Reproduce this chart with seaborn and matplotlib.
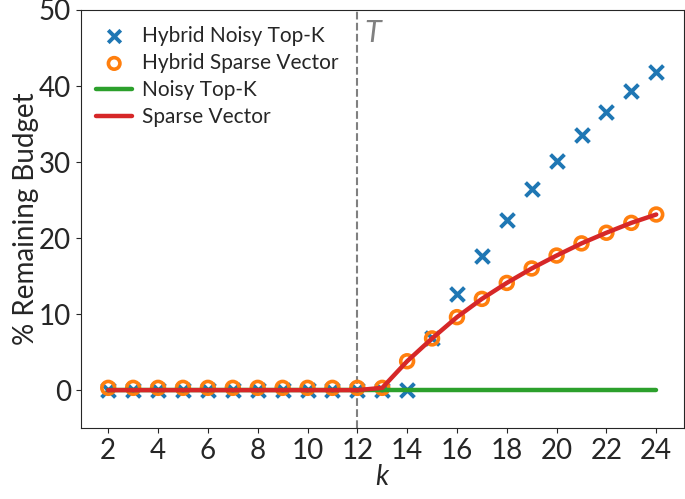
import matplotlib
matplotlib.use("Agg")
import matplotlib.pyplot as plt
import seaborn as sns
import pandas as pd
import numpy as np

# values
k = list(range(2, 25))
hybrid_topk = [0, 0, 0, 0, 0, 0, 0, 0, 0, 0, 0, 0, 0,
               6.8, 12.6, 17.6, 22.4, 26.5, 30.2, 33.5, 36.6, 39.4, 41.9]
hybrid_sparse = [0.3, 0.3, 0.3, 0.3, 0.3, 0.3, 0.3, 0.3, 0.3, 0.3, 0.3, 0.3,
                 3.8, 6.8, 9.6, 12.0, 14.1, 16.0, 17.7, 19.3, 20.7, 22.0, 23.1]
noisy_topk = [0] * 23
sparse_vector = [0, 0, 0, 0, 0, 0, 0, 0, 0, 0, 0, 0.3,
                 3.8, 6.8, 9.6, 12.0, 14.1, 16.0, 17.7, 19.3, 20.7, 22.0, 23.1]
threshold_k = 12

df = pd.DataFrame({'k': k, 'hybrid_topk': hybrid_topk, 'hybrid_sparse': hybrid_sparse,
                   'noisy_topk': noisy_topk, 'sparse_vector': sparse_vector})

sns.set_style('ticks')
plt.rcParams['font.family'] = ['Lato', 'DejaVu Sans']

fig, ax = plt.subplots(figsize=(6.85, 4.99), dpi=100)

sns.scatterplot(data=df, x='k', y='hybrid_topk', marker='x', s=100, color='#1f77b4',
                linewidth=2.8, label='Hybrid Noisy Top-K', ax=ax)
sns.scatterplot(data=df, x='k', y='hybrid_sparse', marker='o', s=85, facecolors='none',
                edgecolor='#ff7f0e', linewidth=2.6, label='Hybrid Sparse Vector', ax=ax)
sns.lineplot(data=df, x='k', y='noisy_topk', color='#2ca02c', linewidth=3.2,
             label='Noisy Top-K', ax=ax)
sns.lineplot(data=df, x='k', y='sparse_vector', color='#d62728', linewidth=3.2,
             label='Sparse Vector', ax=ax)

# threshold marker
ax.axvline(threshold_k, color='gray', linestyle='--', linewidth=1.5, zorder=0.5)
ax.text(threshold_k + 0.6, 47, 'T', color='gray', fontsize=22, style='italic',
        ha='center', va='center')

ax.set_ylim(-5, 50)
ax.set_xticks(range(2, 25, 2))
ax.set_yticks([0, 10, 20, 30, 40, 50])
ax.tick_params(axis='both', labelsize=20)
ax.set_xlabel('k', fontsize=20, style='italic', labelpad=0)
ax.set_ylabel('% Remaining Budget', fontsize=20, labelpad=0)

leg = ax.legend(loc='upper left', fontsize=15, frameon=False, markerscale=0.9,
                handlelength=1.7, handletextpad=0.5, labelspacing=0.35,
                borderaxespad=0.35)

fig.subplots_adjust(left=0.118, right=0.998, top=0.98, bottom=0.142)
fig.savefig('out.png', dpi=100)
